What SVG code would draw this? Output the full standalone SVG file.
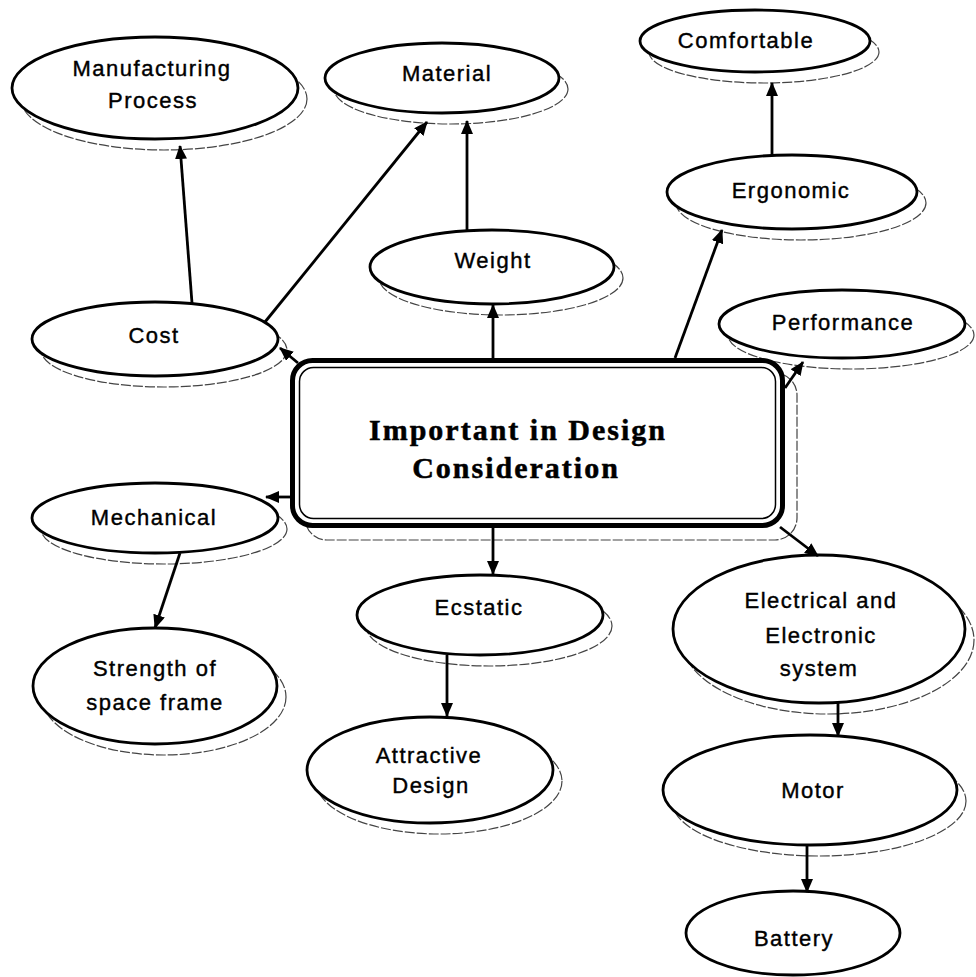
<svg xmlns="http://www.w3.org/2000/svg" width="976" height="977" viewBox="0 0 976 977">
<style>
.sh{fill:none;stroke:#444;stroke-width:1.2;stroke-dasharray:10 2}
.el{fill:#fff;stroke:#000;stroke-width:2.8}
.lb{font-family:"Liberation Sans",Arial,sans-serif;font-size:22px;letter-spacing:1.5px;text-anchor:middle;fill:#000;stroke:#000;stroke-width:0.4}
.tt{font-family:"Liberation Serif","Times New Roman",serif;font-size:30px;font-weight:bold;letter-spacing:2px;text-anchor:middle;fill:#000;stroke:#000;stroke-width:0.5}
.cn line{stroke:#000;stroke-width:2.8;marker-end:url(#ah)}
</style>
<defs>
<marker id="ah" markerUnits="userSpaceOnUse" markerWidth="14" markerHeight="12" refX="13" refY="6" orient="auto">
<path d="M0,0 L14,6 L0,12 z" fill="#000"/>
</marker>
</defs>
<rect width="976" height="977" fill="#fff"/>

<g id="manufacturing">
<ellipse class="sh" cx="164" cy="99" rx="143" ry="51"/>
<ellipse class="el" cx="155" cy="88" rx="143" ry="51"/>
<text class="lb" x="152" y="76">Manufacturing</text>
<text class="lb" x="153" y="108">Process</text>
</g>
<g id="material">
<ellipse class="sh" cx="451" cy="89" rx="117" ry="35"/>
<ellipse class="el" cx="442" cy="78" rx="117" ry="35"/>
<text class="lb" x="447" y="81">Material</text>
</g>
<g id="comfortable">
<ellipse class="sh" cx="764" cy="52" rx="115" ry="31"/>
<ellipse class="el" cx="755" cy="41" rx="115" ry="31"/>
<text class="lb" x="746" y="48">Comfortable</text>
</g>
<g id="weight">
<ellipse class="sh" cx="501" cy="278" rx="122" ry="37"/>
<ellipse class="el" cx="492" cy="267" rx="122" ry="37"/>
<text class="lb" x="493" y="268">Weight</text>
</g>
<g id="ergonomic">
<ellipse class="sh" cx="801" cy="203" rx="125" ry="37"/>
<ellipse class="el" cx="792" cy="192" rx="125" ry="37"/>
<text class="lb" x="791" y="198">Ergonomic</text>
</g>
<g id="performance">
<ellipse class="sh" cx="851" cy="335" rx="123" ry="34"/>
<ellipse class="el" cx="842" cy="324" rx="123" ry="34"/>
<text class="lb" x="843" y="330">Performance</text>
</g>
<g id="cost">
<ellipse class="sh" cx="164" cy="350" rx="123" ry="37"/>
<ellipse class="el" cx="155" cy="339" rx="123" ry="37"/>
<text class="lb" x="154" y="343">Cost</text>
</g>
<g id="center">
<rect class="sh" x="305" y="373" width="492" height="167" rx="22"/>
<rect x="292.5" y="360.5" width="490" height="165" rx="20" fill="#fff" stroke="#000" stroke-width="5"/>
<rect x="299.5" y="367.5" width="476" height="151" rx="14" fill="none" stroke="#000" stroke-width="1.5"/>
<text class="tt" x="518" y="440">Important in Design</text>
<text class="tt" x="516" y="478">Consideration</text>
</g>
<g id="mechanical">
<ellipse class="sh" cx="164" cy="529" rx="123" ry="35"/>
<ellipse class="el" cx="155" cy="518" rx="123" ry="35"/>
<text class="lb" x="154" y="525">Mechanical</text>
</g>
<g id="strength">
<ellipse class="sh" cx="164" cy="697" rx="122" ry="58"/>
<ellipse class="el" cx="155" cy="686" rx="122" ry="58"/>
<text class="lb" x="155" y="676">Strength of</text>
<text class="lb" x="155" y="710">space frame</text>
</g>
<g id="ecstatic">
<ellipse class="sh" cx="489" cy="626" rx="123" ry="40"/>
<ellipse class="el" cx="480" cy="615" rx="123" ry="40"/>
<text class="lb" x="479" y="615">Ecstatic</text>
</g>
<g id="attractive">
<ellipse class="sh" cx="439" cy="781" rx="123" ry="53"/>
<ellipse class="el" cx="430" cy="770" rx="123" ry="53"/>
<text class="lb" x="429" y="763">Attractive</text>
<text class="lb" x="431" y="793">Design</text>
</g>
<g id="electrical">
<ellipse class="sh" cx="828" cy="640" rx="146" ry="74"/>
<ellipse class="el" cx="819" cy="629" rx="146" ry="74"/>
<text class="lb" x="821" y="608">Electrical and</text>
<text class="lb" x="821" y="643">Electronic</text>
<text class="lb" x="819" y="676">system</text>
</g>
<g id="motor">
<ellipse class="sh" cx="819" cy="801" rx="147" ry="55"/>
<ellipse class="el" cx="810" cy="790" rx="147" ry="55"/>
<text class="lb" x="813" y="798">Motor</text>
</g>
<g id="battery">
<ellipse class="el" cx="793" cy="933" rx="107" ry="42"/>
<text class="lb" x="794" y="946">Battery</text>
</g>

<g id="connectors" class="cn">
<line x1="192" y1="303" x2="180" y2="146"/>
<line x1="265" y1="322" x2="427" y2="122"/>
<line x1="467" y1="230" x2="467" y2="121"/>
<line x1="493" y1="358" x2="493" y2="305"/>
<line x1="298" y1="363" x2="280" y2="348"/>
<line x1="290" y1="497" x2="266" y2="497"/>
<line x1="180" y1="553" x2="155" y2="628"/>
<line x1="493" y1="528" x2="493" y2="574"/>
<line x1="447" y1="655" x2="447" y2="716"/>
<line x1="780" y1="527" x2="818" y2="556"/>
<line x1="838" y1="703" x2="838" y2="736"/>
<line x1="807" y1="845" x2="807" y2="892"/>
<line x1="675" y1="358" x2="722" y2="230"/>
<line x1="785" y1="388" x2="803" y2="362"/>
<line x1="772" y1="155" x2="772" y2="83"/>
</g>
</svg>
